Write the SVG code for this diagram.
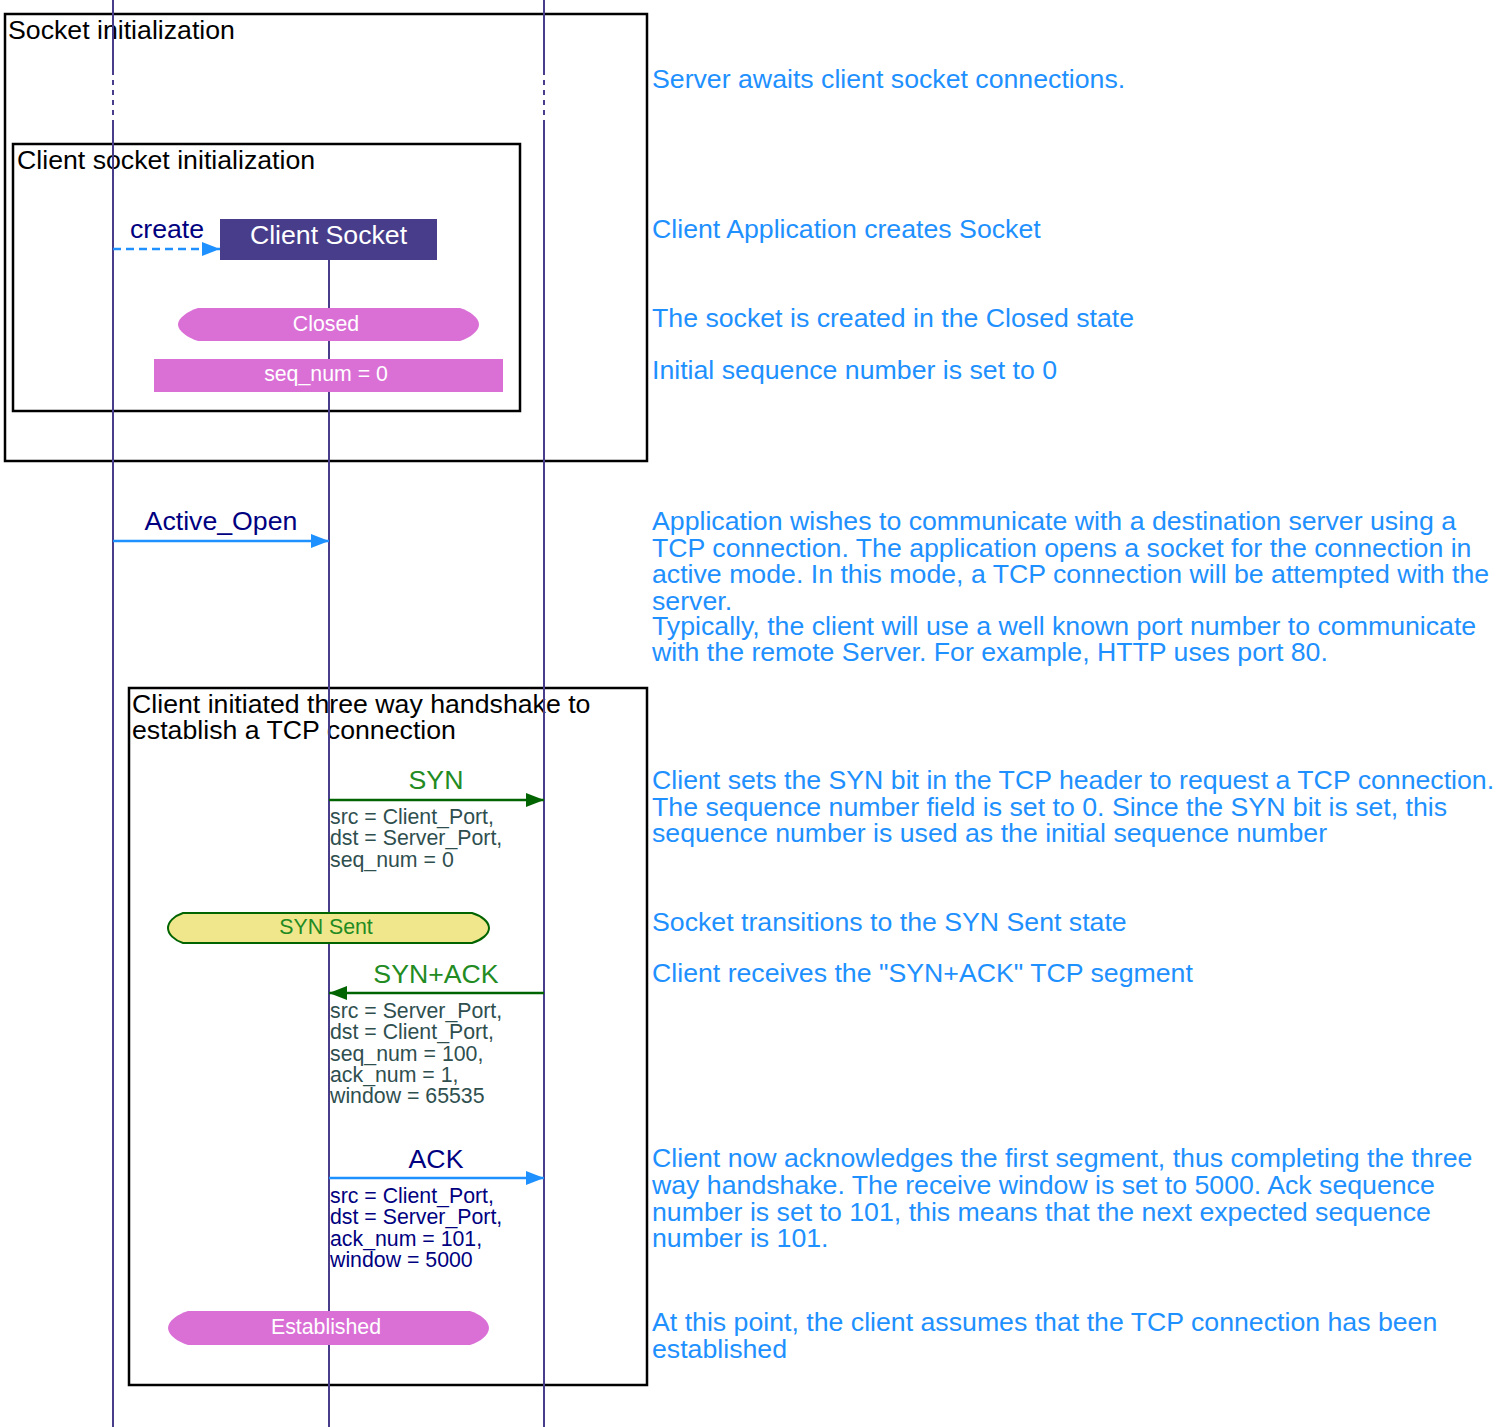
<svg xmlns="http://www.w3.org/2000/svg" width="1511" height="1427" viewBox="0 0 1511 1427">
<style>
text{font-family:"Liberation Sans",Arial,sans-serif}
.big{font-size:26.7px}
.sm{font-size:21.3px}
.note{font-size:26.7px;fill:#1e90ff}
.box{fill:none;stroke:#000;stroke-width:2.5}
.life{stroke:#483d8b;stroke-width:2;fill:none}
.blk{fill:#000}
.navy{fill:#000080}
.grn{fill:#228b22}
.slate{fill:#2f4f4f}
.wht{fill:#fff}
.orchid{fill:#da70d6}
</style>
<defs>
<marker id="ab" viewBox="0 0 18 14" refX="18" refY="7" markerWidth="18" markerHeight="14" markerUnits="userSpaceOnUse" orient="auto"><path d="M0,0 L18,7 L0,14 Z" fill="#1e90ff"/></marker>
<marker id="ag" viewBox="0 0 18 14" refX="18" refY="7" markerWidth="18" markerHeight="14" markerUnits="userSpaceOnUse" orient="auto"><path d="M0,0 L18,7 L0,14 Z" fill="#006400"/></marker>
</defs>

<g id="frames">
<g id="socket-init"><rect class="box" x="5" y="14" width="642" height="447"/><text class="big blk" x="8" y="39">Socket initialization</text></g>
<g id="client-socket-init"><rect class="box" x="13" y="144" width="507" height="267"/><text class="big blk" x="17" y="169">Client socket initialization</text></g>
<g id="handshake"><rect class="box" x="129" y="688" width="518" height="697"/><text class="big blk" x="132" y="713">Client initiated three way handshake to</text><text class="big blk" x="132" y="739">establish a TCP connection</text></g>
</g>

<g id="lifelines">
<path class="life" d="M113,0 V70 M113,123 V1427"/>
<path class="life" d="M113,70 V123" stroke-dasharray="5,5"/>
<path class="life" d="M544,0 V70 M544,123 V1427"/>
<path class="life" d="M544,70 V123" stroke-dasharray="5,5"/>
<path class="life" d="M329,260 V1427"/>
</g>

<g id="client-socket"><rect x="220" y="219" width="217" height="41" fill="#483d8b"/><text class="big wht" x="328.5" y="244" text-anchor="middle">Client Socket</text></g>

<g id="closed"><path class="orchid" d="M198,308 H460 C470,311 479,318 479,324.5 C479,331 470,338 460,341 H198 C188,338 178,331 178,324.5 C178,318 188,311 198,308 Z"/><text class="sm wht" x="326" y="331" text-anchor="middle">Closed</text></g>

<g id="seq-init"><rect class="orchid" x="154" y="359" width="349" height="33"/><text class="sm wht" x="326" y="381" text-anchor="middle">seq_num = 0</text></g>

<g id="syn-sent"><path d="M183,913 H472 C482,916 489,922 489,928 C489,934 482,940 472,943 H183 C174,940 168,934 168,928 C168,922 174,916 183,913 Z" fill="#f0e68c" stroke="#006400" stroke-width="2"/><text class="sm grn" x="326" y="934" text-anchor="middle">SYN Sent</text></g>

<g id="established"><path class="orchid" d="M188,1311 H470 C480,1314 489,1321 489,1328 C489,1335 480,1342 470,1345 H188 C178,1342 168,1335 168,1328 C168,1321 178,1314 188,1311 Z"/><text class="sm wht" x="326" y="1334" text-anchor="middle">Established</text></g>

<g id="connectors">
<g id="create"><line x1="113" y1="249" x2="220" y2="249" stroke="#1e90ff" stroke-width="2.5" stroke-dasharray="8,5" marker-end="url(#ab)"/><text class="big navy" x="167" y="238" text-anchor="middle">create</text></g>
<g id="active-open"><line x1="113" y1="541" x2="329" y2="541" stroke="#1e90ff" stroke-width="2.5" marker-end="url(#ab)"/><text class="big navy" x="221" y="530" text-anchor="middle">Active_Open</text></g>
<g id="syn"><line x1="329" y1="800" x2="544" y2="800" stroke="#006400" stroke-width="2.5" marker-end="url(#ag)"/><text class="big grn" x="436" y="789" text-anchor="middle">SYN</text>
<text class="sm slate" x="330"><tspan x="330" y="824">src = Client_Port,</tspan><tspan x="330" y="845">dst = Server_Port,</tspan><tspan x="330" y="867">seq_num = 0</tspan></text></g>
<g id="syn-ack"><line x1="544" y1="993" x2="329" y2="993" stroke="#006400" stroke-width="2.5" marker-end="url(#ag)"/><text class="big grn" x="436" y="983" text-anchor="middle">SYN+ACK</text>
<text class="sm slate" x="330"><tspan x="330" y="1018">src = Server_Port,</tspan><tspan x="330" y="1039">dst = Client_Port,</tspan><tspan x="330" y="1061">seq_num = 100,</tspan><tspan x="330" y="1082">ack_num = 1,</tspan><tspan x="330" y="1103">window = 65535</tspan></text></g>
<g id="ack"><line x1="329" y1="1178" x2="544" y2="1178" stroke="#1e90ff" stroke-width="2.5" marker-end="url(#ab)"/><text class="big navy" x="436" y="1168" text-anchor="middle">ACK</text>
<text class="sm navy" x="330"><tspan x="330" y="1203">src = Client_Port,</tspan><tspan x="330" y="1224">dst = Server_Port,</tspan><tspan x="330" y="1246">ack_num = 101,</tspan><tspan x="330" y="1267">window = 5000</tspan></text></g>
</g>

<g id="notes">
<text class="note" x="652" y="88">Server awaits client socket connections.</text>
<text class="note" x="652" y="238">Client Application creates Socket</text>
<text class="note" x="652" y="327">The socket is created in the Closed state</text>
<text class="note" x="652" y="379">Initial sequence number is set to 0</text>
<text class="note"><tspan x="652" y="530">Application wishes to communicate with a destination server using a</tspan><tspan x="652" y="557">TCP connection. The application opens a socket for the connection in</tspan><tspan x="652" y="583">active mode. In this mode, a TCP connection will be attempted with the</tspan><tspan x="652" y="610">server.</tspan><tspan x="652" y="635">Typically, the client will use a well known port number to communicate</tspan><tspan x="652" y="661">with the remote Server. For example, HTTP uses port 80.</tspan></text>
<text class="note"><tspan x="652" y="789">Client sets the SYN bit in the TCP header to request a TCP connection.</tspan><tspan x="652" y="816">The sequence number field is set to 0. Since the SYN bit is set, this</tspan><tspan x="652" y="842">sequence number is used as the initial sequence number</tspan></text>
<text class="note" x="652" y="931">Socket transitions to the SYN Sent state</text>
<text class="note" x="652" y="982">Client receives the "SYN+ACK" TCP segment</text>
<text class="note"><tspan x="652" y="1167">Client now acknowledges the first segment, thus completing the three</tspan><tspan x="652" y="1194">way handshake. The receive window is set to 5000. Ack sequence</tspan><tspan x="652" y="1221">number is set to 101, this means that the next expected sequence</tspan><tspan x="652" y="1247">number is 101.</tspan></text>
<text class="note"><tspan x="652" y="1331">At this point, the client assumes that the TCP connection has been</tspan><tspan x="652" y="1358">established</tspan></text>
</g>
</svg>
